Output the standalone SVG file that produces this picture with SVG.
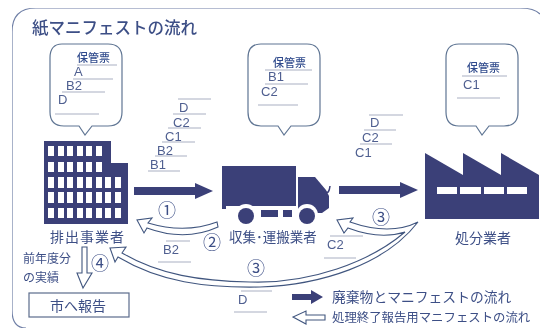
<svg xmlns="http://www.w3.org/2000/svg" width="541" height="329" viewBox="0 0 541 329">
<defs>
<style>
.t{font-family:"Noto Sans CJK JP","Noto Sans",sans-serif;fill:#3d4f86}
.l{font-family:"Liberation Sans",sans-serif;font-size:13px;fill:#4f5f90}
.h{font-family:"Noto Sans CJK JP",sans-serif;font-size:11px;fill:#2f4a8c;font-weight:500}
.r{stroke:#a9afc2;stroke-width:1;fill:none}
.b{fill:#fff;stroke:#5f7593;stroke-width:1.2}
.s{fill:#3b3f78}
.w{fill:#fff}
.o{fill:#fff;stroke:#41567f;stroke-width:1.1;stroke-linejoin:miter}
</style>
<filter id="soft" x="0" y="0" width="100%" height="100%"><feGaussianBlur stdDeviation="0.45"/></filter>
</defs>
<rect width="541" height="329" fill="#fff"/>
<g filter="url(#soft)">
<path id="frame" d="M540 14Q534 8 520 8H36Q12 8 12 32V310Q12 328 26 328" fill="none" stroke="#6f7fa6" stroke-width="1.2"/>
<text id="title" class="t" x="32" y="34" font-size="16.500" font-weight="500">紙マニフェストの流れ</text>

<g id="bubble-1">
<path class="b" d="M62 44H108Q122 44 122 58V112Q122 126 108 126H92L85 135L79 126H64Q50 126 50 112V58Q50 44 62 44Z"/>
<text class="h" x="77" y="62">保管票</text>
<path class="r" d="M77 65H117M73 79H113M62 92H105M55 114H99"/>
<text class="l" x="74" y="76">A</text>
<text class="l" x="66" y="90">B2</text>
<text class="l" x="58" y="104">D</text>
</g>
<g id="bubble-2">
<path class="b" d="M261 44H307Q320 44 320 58V112Q320 126 306 126H291L284 135L278 126H261Q248 126 248 112V58Q248 44 261 44Z"/>
<text class="h" x="273" y="67">保管票</text>
<path class="r" d="M265 70H312M265 84H308M258 105H298"/>
<text class="l" x="268" y="81">B1</text>
<text class="l" x="261" y="96">C2</text>
</g>
<g id="bubble-3">
<path class="b" d="M459 44H505Q518 44 518 58V112Q518 126 504 126H489L482 135L476 126H459Q446 126 446 112V58Q446 44 459 44Z"/>
<text class="h" x="467" y="72">保管票</text>
<path class="r" d="M462 76H507M457 98H500"/>
<text class="l" x="463" y="89">C1</text>
</g>

<g id="node-generator">
<path class="s" d="M44 141H111V163H128V224H44Z"/>
<path class="w" d="M48 146h6v10h-6zM58 146h6v10h-6zM67 146h6v10h-6zM77 146h6v10h-6zM86 146h6v10h-6zM96 146h6v10h-6zM48 162h6v10h-6zM58 162h6v10h-6zM67 162h6v10h-6zM77 162h6v10h-6zM86 162h6v10h-6zM96 162h6v10h-6zM48 177h6v11h-6zM58 177h6v11h-6zM67 177h6v11h-6zM77 177h6v11h-6zM86 177h6v11h-6zM96 177h6v11h-6zM105 177h6v11h-6zM115 177h6v11h-6zM48 192h6v11h-6zM58 192h6v11h-6zM67 192h6v11h-6zM77 192h6v11h-6zM86 192h6v11h-6zM96 192h6v11h-6zM105 192h6v11h-6zM115 192h6v11h-6zM48 208h6v10h-6zM58 208h6v10h-6zM67 208h6v10h-6zM77 208h6v10h-6zM86 208h6v10h-6zM96 208h6v10h-6zM105 208h6v10h-6zM115 208h6v10h-6z"/>
<text class="t" x="50" y="242" font-size="14" letter-spacing="1">排出事業者</text>
</g>

<g id="node-truck">
<path class="s" d="M222 166H296V206H222Z"/>
<path class="s" d="M298 177H315L326 190L329 196V208L322 213H298Z"/>
<path d="M326 192Q329 194 330 186" stroke="#3b3f78" stroke-width="1.5" fill="none"/>
<path class="s" d="M222 205H226V209H222Z"/>
<path class="s" d="M261 210H278V217H261ZM283 210H292V217H283Z"/>
<circle class="w" cx="246" cy="215" r="11"/>
<circle class="w" cx="307" cy="215" r="11"/>
<circle class="s" cx="246" cy="216" r="8"/>
<circle class="s" cx="307" cy="216" r="8"/>
<text class="t" x="229" y="242" font-size="13.500">収集･運搬業者</text>
</g>

<g id="node-factory">
<path class="s" d="M425 153L463 175V153L501 175V153L539 175V219H425Z"/>
<path class="w" d="M437 187h20v7h-20zM460 187h21v7h-21zM484 187h20v7h-20zM507 187h20v7h-20z"/>
<text class="t" x="455" y="243" font-size="14">処分業者</text>
</g>

<g id="connectors">
<path class="s" d="M134 187H195V183L213 191L195 199V195H134Z"/>
<path class="s" d="M339 186H400V182L418 190L400 198V194H339Z"/>
<path class="o" d="M217 222Q185 234 148 223L152 218L137 220L144 233L147 228Q185 242 218 227Z"/>
<path class="o" d="M418 222Q390 236 350 222L353 218L337 220L344 233L348 228Q380 240 405 232C370 262 310 284 250 282C200 281 160 275 122 253L126 247L110 248L115 262L118 257C160 282 205 288 260 287C320 285 385 265 418 222Z"/>
<path class="o" d="M82 247H87V273H92L83 288L77 273H82Z"/>
<path class="s" d="M292 294H311V290L323 297L311 304V300H292Z"/>
<path class="o" d="M325 315H306V311L293 317L306 324V320H325Z"/>
</g>

<g id="labels">
<text class="l" x="179" y="112">D</text>
<text class="l" x="173" y="127">C2</text>
<text class="l" x="165" y="141">C1</text>
<text class="l" x="157" y="155">B2</text>
<text class="l" x="150" y="169">B1</text>
<path class="r" d="M178 99H211M173 114H206M168 128H201M162 142H195M155 156H187M148 171H180"/>
<text class="l" x="370" y="127">D</text>
<text class="l" x="362" y="142">C2</text>
<text class="l" x="355" y="157">C1</text>
<path class="r" d="M369 115H403M364 130H396M360 144H392"/>
<text class="l" x="163" y="254">B2</text>
<path class="r" d="M166 241H190M158 262H191"/>
<text class="l" x="327" y="249">C2</text>
<path class="r" d="M330 236H363M324 258H356"/>
<text class="l" x="238" y="304">D</text>
<path class="r" d="M241 291H272M234 312H267"/>
<text class="t" x="158" y="217" font-size="18">①</text>
<text class="t" x="203" y="249" font-size="18">②</text>
<text class="t" x="91" y="270" font-size="18">④</text>
<text class="t" x="247" y="275" font-size="18">③</text>
<text class="t" x="372" y="224" font-size="18">③</text>
<text class="t" x="23" y="263" font-size="12">前年度分</text>
<text class="t" x="23" y="282" font-size="12">の実績</text>
</g>

<g id="node-report">
<rect x="29" y="293" width="100" height="24" fill="#fff" stroke="#5a6c8c" stroke-width="1.2"/>
<text class="t" x="50" y="311" font-size="14">市へ報告</text>
</g>

<g id="legend">
<text class="t" x="332" y="302" font-size="13.800">廃棄物とマニフェストの流れ</text>
<text class="t" x="332" y="322" font-size="12.400">処理終了報告用マニフェストの流れ</text>
</g>
</g>
</svg>
